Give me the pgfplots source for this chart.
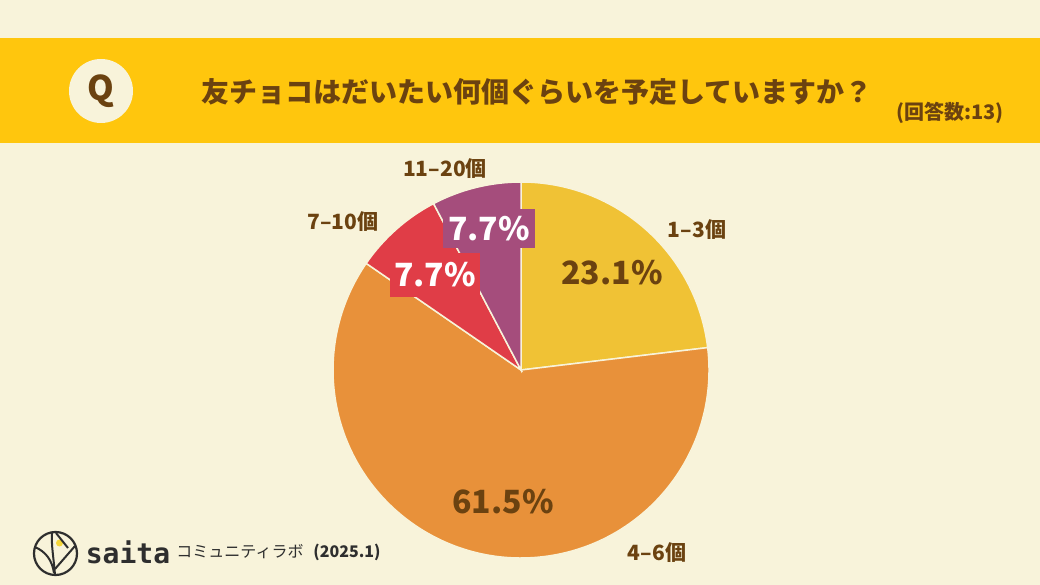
\documentclass[border=0pt]{standalone}
\usepackage{pgfplots}
\pgfplotsset{compat=1.18}
\usepackage{fontspec}
\setmainfont{Noto Sans CJK JP}
\newfontfamily\cjk{Noto Sans CJK JP}
\newfontfamily\logofont{DejaVu Sans Mono}
\definecolor{bg}{HTML}{F8F3DA}
\definecolor{band}{HTML}{FFC60D}
\definecolor{brown}{HTML}{6B4210}
\definecolor{cA}{HTML}{F0C235}
\definecolor{cB}{HTML}{E8913A}
\definecolor{cC}{HTML}{E03D47}
\definecolor{cD}{HTML}{A54D7C}
\definecolor{ink}{HTML}{2E2E2E}
\definecolor{dot}{HTML}{F5D63A}
\begin{document}
\begin{tikzpicture}
% data (percent)
\def\vA{23.1}\def\vB{61.5}\def\vC{7.7}\def\vD{7.7}
\pgfmathsetmacro\aA{90}
\pgfmathsetmacro\aB{\aA-\vA*3.6}
\pgfmathsetmacro\aC{\aB-\vB*3.6}
\pgfmathsetmacro\aD{\aC-\vC*3.6}
\pgfmathsetmacro\aE{\aD-\vD*3.6}
\begin{axis}[scale only axis, width=1040pt, height=585pt,
  xmin=0, xmax=1040, ymin=0, ymax=585, hide axis, clip=false]
\fill[bg] (axis cs:0,0) rectangle (axis cs:1040,585);
\fill[band] (axis cs:0,442) rectangle (axis cs:1040,547);
\fill[bg] (axis cs:101,494) circle[radius=32pt];
\node[text=brown, font=\fontsize{34}{34}\selectfont\bfseries] at (axis cs:101,494) {Q};
\node[text=brown, font=\fontsize{28}{28}\selectfont\bfseries] at (axis cs:537,493) {友チョコはだいたい何個ぐらいを予定していますか？};
\node[text=brown, font=\fontsize{20}{20}\selectfont\bfseries] at (axis cs:950,472) {(回答数:13)};
% pie
\filldraw[fill=cA, draw=bg, line width=1.5pt] (axis cs:521,215) -- ++(\aA:188pt) arc[start angle=\aA, end angle=\aB, radius=188pt] -- cycle;
\filldraw[fill=cB, draw=bg, line width=1.5pt] (axis cs:521,215) -- ++(\aB:188pt) arc[start angle=\aB, end angle=\aC, radius=188pt] -- cycle;
\filldraw[fill=cC, draw=bg, line width=1.5pt] (axis cs:521,215) -- ++(\aC:188pt) arc[start angle=\aC, end angle=\aD, radius=188pt] -- cycle;
\filldraw[fill=cD, draw=bg, line width=1.5pt] (axis cs:521,215) -- ++(\aD:188pt) arc[start angle=\aD, end angle=\aE, radius=188pt] -- cycle;
% value labels
\node[text=brown, font=\fontsize{32}{32}\selectfont\bfseries] at (axis cs:612,312) {23.1\%};
\node[text=brown, font=\fontsize{32}{32}\selectfont\bfseries] at (axis cs:503,83) {61.5\%};
\node[fill=cC, text=white, minimum width=90pt, minimum height=44pt, inner sep=0pt, font=\fontsize{32}{32}\selectfont\bfseries] at (axis cs:435,310) {7.7\%};
\node[fill=cD, text=white, minimum width=92pt, minimum height=39pt, inner sep=0pt, font=\fontsize{32}{32}\selectfont\bfseries] at (axis cs:489,356.5) {7.7\%};
% category labels
\node[text=brown, font=\fontsize{21}{21}\selectfont\bfseries] at (axis cs:697,355) {1–3個};
\node[text=brown, font=\fontsize{21}{21}\selectfont\bfseries] at (axis cs:657,32) {4–6個};
\node[text=brown, font=\fontsize{21}{21}\selectfont\bfseries] at (axis cs:343,363) {7–10個};
\node[text=brown, font=\fontsize{21}{21}\selectfont\bfseries] at (axis cs:445,416) {11–20個};
% footer logo
\fill[dot] (axis cs:59.5,42) circle[radius=3.5pt];
\draw[ink, line width=2.2pt] (axis cs:55.5,31.5) circle[radius=21.5pt];
\draw[ink, line width=2pt] (axis cs:55,10) .. controls (axis cs:54,25) and (axis cs:51,40) .. (axis cs:52,53);
\draw[ink, line width=2pt] (axis cs:35,38) .. controls (axis cs:46,33) and (axis cs:52,25) .. (axis cs:54,12);
\draw[ink, line width=2pt] (axis cs:56,52) -- (axis cs:68,37);
\draw[ink, line width=2pt] (axis cs:55,16) -- (axis cs:75,39);
\node[text=ink, font=\logofont\fontsize{28}{28}\selectfont\bfseries] at (axis cs:128,33) {saita};
\node[text=ink, font=\fontsize{16}{16}\selectfont] at (axis cs:240,33) {コミュニティラボ};
\node[text=ink, font=\fontsize{16}{16}\selectfont\bfseries] at (axis cs:347,33) {(2025.1)};
\end{axis}
\end{tikzpicture}
\end{document}
